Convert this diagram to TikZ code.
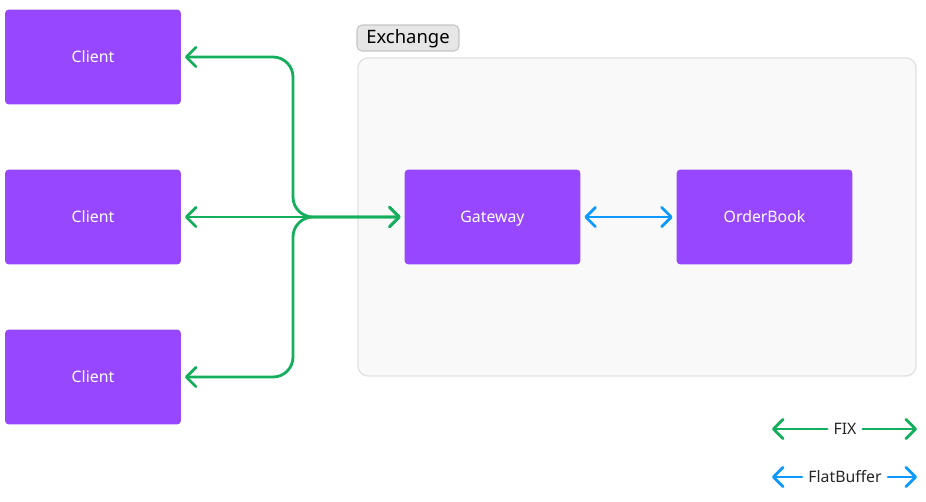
\documentclass[tikz,border=0pt]{standalone}
\usepackage{fontspec}
\setmainfont{Noto Sans}
\usetikzlibrary{arrows.meta}

\definecolor{boxpurple}{HTML}{9747FF}
\definecolor{fixgreen}{HTML}{14AE5C}
\definecolor{fbblue}{HTML}{0D99FF}
\definecolor{panelfill}{HTML}{F9F9F9}
\definecolor{paneledge}{HTML}{E2E2E2}
\definecolor{tagfill}{HTML}{E6E6E6}
\definecolor{tagedge}{HTML}{C4C4C4}

\tikzset{
    comp/.style={fill=boxpurple, rounded corners=0.08cm, minimum width=3.52cm,
        minimum height=1.9cm, text=white, text height=0.82em, text depth=0.18em,
        font=\fontsize{9}{11}\selectfont},
    tip/.tip={Straight Barb[length=5.5pt, width=11pt, line width=1.6pt, round]},
    fixline/.style={draw=fixgreen, line width=1.6pt, line cap=round, arrows={tip-tip}},
    fbline/.style={draw=fbblue, line width=1.6pt, line cap=round, arrows={tip-tip}},
    legendtxt/.style={inner sep=0.12cm, text=black!85, text height=0.82em,
        text depth=0.18em, font=\fontsize{9}{11}\selectfont}
}

\begin{document}
\begin{tikzpicture}[x=0.02cm, y=-0.02cm]
    \useasboundingbox (0,0) rectangle (926,501);

    % Exchange panel and its tag
    \draw[fill=panelfill, draw=paneledge, line width=0.8pt, rounded corners=0.2cm]
        (358,58) rectangle (916,376);
    \node[fill=tagfill, draw=tagedge, line width=0.6pt, rounded corners=0.1cm,
        minimum width=2.04cm, minimum height=0.52cm, inner sep=0pt,
        text height=0.8em, text depth=0.18em,
        font=\fontsize{10.5}{12}\selectfont] (tag) at (408,38) {Exchange};

    % Clients
    \node[comp] (cl1) at (93,57) {Client};
    \node[comp] (cl2) at (93,217) {Client};
    \node[comp] (cl3) at (93,377) {Client};

    % Exchange internals
    \node[comp] (gw) at (492.5,217) {Gateway};
    \node[comp] (ob) at (764.5,217) {OrderBook};

    % FIX links
    \coordinate (hub) at (293,217);
    \draw[fixline, rounded corners=0.4cm, shorten <=2pt, shorten >=2pt] (cl1.east) -| (hub) -- (gw.west);
    \draw[fixline, rounded corners=0.4cm, shorten <=2pt, shorten >=2pt] (cl3.east) -| (hub) -- (gw.west);
    \draw[fixline, shorten <=2pt, shorten >=2pt] (cl2.east) -- (gw.west);

    % FlatBuffer link
    \draw[fbline, shorten <=2pt, shorten >=2pt] (gw.east) -- (ob.west);

    % Legend
    \node[legendtxt] (fixkey) at (845,429) {FIX};
    \coordinate (fixL) at (772,429);
    \coordinate (fixR) at (917,429);
    \draw[fixline, arrows={-tip}] (fixkey.west) -- (fixL);
    \draw[fixline, arrows={-tip}] (fixkey.east) -- (fixR);

    \node[legendtxt] (fbkey) at (845,477) {FlatBuffer};
    \coordinate (fbL) at (772,477);
    \coordinate (fbR) at (917,477);
    \draw[fbline, arrows={-tip}] (fbkey.west) -- (fbL);
    \draw[fbline, arrows={-tip}] (fbkey.east) -- (fbR);
\end{tikzpicture}
\end{document}
